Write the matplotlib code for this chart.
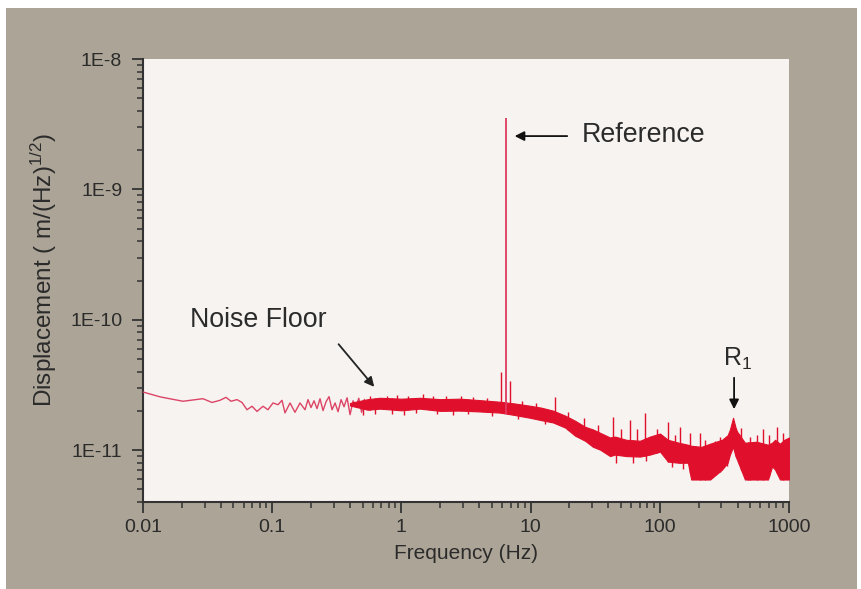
import numpy as np
import matplotlib
matplotlib.use("Agg")
import matplotlib.pyplot as plt
from matplotlib.ticker import LogLocator, FixedLocator, FuncFormatter, NullFormatter
from matplotlib.patches import Rectangle

plt.rcParams['font.family'] = ['Liberation Sans', 'DejaVu Sans']
plt.rcParams['mathtext.fontset'] = 'custom'
plt.rcParams['mathtext.rm'] = 'Liberation Sans'
plt.rcParams['mathtext.it'] = 'Liberation Sans'
plt.rcParams['mathtext.default'] = 'regular'

# ---------------- data ----------------
# low-frequency trace (Hz, m/Hz^1/2)
trace_f = [0.0100, 0.0136, 0.0204, 0.0291, 0.0342, 0.0394, 0.0439, 0.0480, 0.0534, 0.0584,
           0.0638, 0.0698, 0.0763, 0.0849, 0.0927, 0.1014, 0.1109, 0.1191, 0.1256, 0.1374,
           0.1501, 0.1641, 0.1795, 0.1893, 0.1996, 0.2107, 0.2223, 0.2345, 0.2474, 0.2610,
           0.2754, 0.2905, 0.3065, 0.3234, 0.3412, 0.3599, 0.3797, 0.4006, 0.4227, 0.4459,
           0.468, 0.492, 0.517, 0.543]
trace_v = [2.79e-11, 2.56e-11, 2.37e-11, 2.48e-11, 2.32e-11, 2.41e-11, 2.54e-11, 2.37e-11, 2.44e-11, 2.32e-11,
           2.04e-11, 2.17e-11, 1.98e-11, 2.17e-11, 2.04e-11, 2.30e-11, 2.23e-11, 2.41e-11, 1.93e-11, 2.30e-11,
           1.95e-11, 2.30e-11, 2.04e-11, 2.44e-11, 2.12e-11, 2.39e-11, 2.08e-11, 2.48e-11, 2.01e-11, 2.35e-11,
           2.57e-11, 2.04e-11, 2.30e-11, 1.97e-11, 2.44e-11, 2.15e-11, 2.52e-11, 1.87e-11, 2.39e-11, 2.19e-11,
           2.50e-11, 1.95e-11, 2.45e-11, 2.05e-11]

# dense noise band: envelope (upper / lower)
band_f = [0.40, 0.55, 0.68, 1.0, 1.39, 2.0, 2.84, 4.0, 5.8, 7.5, 9.9, 12.0, 14.9, 18.5, 22.1, 26.4,
          30.4, 34.4, 41.2, 45.0, 55.0, 70.3, 83.9, 100.4, 115.6, 140, 165, 175, 210, 245, 303,
          335, 349, 369, 385, 396, 456, 560, 688, 740, 780, 851, 920, 1000]
band_hi = [2.30e-11, 2.46e-11, 2.52e-11, 2.48e-11, 2.52e-11, 2.46e-11, 2.48e-11, 2.42e-11, 2.35e-11,
           2.28e-11, 2.19e-11, 2.12e-11, 2.01e-11, 1.84e-11, 1.68e-11, 1.51e-11,
           1.44e-11, 1.36e-11, 1.25e-11, 1.27e-11, 1.20e-11, 1.18e-11, 1.27e-11, 1.34e-11, 1.20e-11,
           1.14e-11, 1.10e-11, 1.08e-11, 1.06e-11, 1.12e-11, 1.20e-11,
           1.30e-11, 1.44e-11, 1.77e-11, 1.50e-11, 1.39e-11, 1.14e-11, 1.16e-11, 1.10e-11, 1.14e-11,
           1.20e-11, 1.12e-11, 1.20e-11, 1.25e-11]
band_lo = [2.20e-11, 2.04e-11, 2.08e-11, 2.02e-11, 2.08e-11, 2.00e-11, 2.01e-11, 1.98e-11, 1.94e-11,
           1.86e-11, 1.77e-11, 1.70e-11, 1.63e-11, 1.49e-11, 1.29e-11, 1.18e-11,
           1.06e-11, 1.01e-11, 9.0e-12, 9.24e-12, 9.0e-12, 8.92e-12, 9.24e-12, 9.74e-12, 8.17e-12,
           8.0e-12, 8.0e-12, 5.95e-12, 5.95e-12, 5.95e-12, 7.09e-12,
           8.0e-12, 9.24e-12, 1.06e-11, 9.0e-12, 8.45e-12, 5.95e-12, 5.95e-12, 5.95e-12, 7.5e-12,
           7.09e-12, 5.95e-12, 5.95e-12, 5.95e-12]

# narrow spikes above the band
spike_f = [0.57, 0.78, 0.93, 1.12, 1.47, 1.75, 2.2, 2.9, 3.6, 4.6, 5.90, 6.93, 8.6, 11.0,
           15.45, 19.5, 25.9, 33.0, 43.4, 50.5, 58.8, 66.7, 76.8, 95.0, 115.6, 130, 143, 171,
           205, 224, 268, 290, 425, 500, 565, 630, 700, 807, 900]
spike_v = [2.62e-11, 2.60e-11, 2.65e-11, 2.58e-11, 2.70e-11, 2.60e-11, 2.62e-11, 2.60e-11,
           2.55e-11, 2.52e-11, 4.0e-11, 3.4e-11, 2.40e-11, 2.30e-11,
           2.57e-11, 1.95e-11, 1.77e-11, 1.55e-11, 1.81e-11, 1.45e-11, 1.71e-11, 1.44e-11,
           1.94e-11, 1.45e-11, 1.63e-11, 1.30e-11, 1.51e-11, 1.36e-11,
           1.36e-11, 1.20e-11, 1.18e-11, 1.25e-11, 1.49e-11, 1.25e-11, 1.31e-11, 1.44e-11,
           1.30e-11, 1.51e-11, 1.35e-11]

# narrow dips below the band
dip_f = [0.50, 0.63, 0.85, 1.05, 1.3, 1.9, 2.5, 3.3, 5.0, 8.0, 13.0, 46.0, 62.0, 78.0, 125.0,
         150.0, 330.0, 410.0, 480.0]
dip_v = [1.85e-11, 1.88e-11, 1.90e-11, 1.86e-11, 1.92e-11, 1.88e-11, 1.85e-11, 1.90e-11,
         1.82e-11, 1.72e-11, 1.58e-11, 8.0e-12, 8.0e-12, 8.2e-12, 7.4e-12, 7.2e-12, 7.5e-12,
         7.8e-12, 5.95e-12]

# reference line
ref_f = 6.45
ref_v = 3.5e-9

# tick positions
xticks = [0.01, 0.1, 1, 10, 100, 1000]
yticks = [1e-11, 1e-10, 1e-9, 1e-8]

# ---------------- figure ----------------
W, H = 862, 589
fig = plt.figure(figsize=(W / 100, H / 100), dpi=100, facecolor='white')
fig.patches.append(Rectangle((6 / W, 0), 851 / W, 1 - 8 / H, transform=fig.transFigure,
                             facecolor='#aca597', edgecolor='none', zorder=-10))

ax = fig.add_axes([143 / W, 1 - 502 / H, 646 / W, 443 / H])
ax.set_facecolor('#f7f3f0')

red = '#e0102c'
ax.plot(trace_f, trace_v, color='#dc4466', lw=1.0, zorder=3)
ax.fill_between(band_f, band_lo, band_hi, color=red, lw=0.8, edgecolor=red, zorder=3)

lf = np.log10(band_f)
base = 10 ** np.interp(np.log10(spike_f), lf, np.log10(band_lo))
ax.vlines(spike_f, base, spike_v, color=red, lw=1.0, zorder=3)
top = 10 ** np.interp(np.log10(dip_f), lf, np.log10(band_hi))
ax.vlines(dip_f, dip_v, top, color=red, lw=1.0, zorder=3)
ref_base = 10 ** np.interp(np.log10(ref_f), lf, np.log10(band_lo))
ax.vlines([ref_f], [ref_base], [ref_v], color='#de3a5e', lw=1.3, zorder=4)

ax.set_xscale('log')
ax.set_yscale('log')
ax.set_xlim(0.01, 1000)
ax.set_ylim(4e-12, 1e-8)

ax.xaxis.set_major_locator(FixedLocator(xticks))
ax.xaxis.set_minor_locator(LogLocator(base=10, subs=np.arange(2, 10), numticks=50))
ax.yaxis.set_major_locator(FixedLocator(yticks))
ax.yaxis.set_minor_locator(LogLocator(base=10, subs=np.arange(2, 10), numticks=50))
ax.xaxis.set_major_formatter(FuncFormatter(lambda v, p: '%g' % v))
ax.yaxis.set_major_formatter(FuncFormatter(lambda v, p: '1E%d' % round(np.log10(v))))
ax.xaxis.set_minor_formatter(NullFormatter())
ax.yaxis.set_minor_formatter(NullFormatter())

txt = '#2b2b2b'
for s in ['top', 'right']:
    ax.spines[s].set_visible(False)
for s in ['left', 'bottom']:
    ax.spines[s].set_color('#333333')
    ax.spines[s].set_linewidth(1.5)
ax.tick_params(which='major', direction='out', length=8, width=1.3, colors='#333333',
               labelsize=14, labelcolor=txt)
ax.tick_params(axis='y', which='major', pad=7)
ax.tick_params(axis='x', which='major', pad=4)
ax.tick_params(which='minor', direction='out', length=4.5, width=1.1, colors='#333333')

ax.set_xlabel('Frequency (Hz)', fontsize=15, color=txt)
ax.xaxis.set_label_coords(0.5, -0.095)
ax.set_ylabel(r'Displacement ( m/(Hz)$^{1/2}$)', fontsize=17.5, color=txt)
ax.yaxis.set_label_coords(-0.13, 0.524)

# annotations
ax.annotate('', xy=(0.571, 0.826), xytext=(0.661, 0.826), xycoords='axes fraction',
            arrowprops=dict(arrowstyle='-|>', color='#111111', lw=1.3, mutation_scale=14))
ax.text(0.6796, 0.828, 'Reference', transform=ax.transAxes, fontsize=19.3, color=txt,
        ha='left', va='center')
ax.annotate('', xy=(0.3607, 0.2551), xytext=(0.300, 0.361), xycoords='axes fraction',
            arrowprops=dict(arrowstyle='-|>', color='#222222', lw=1.3, mutation_scale=14))
ax.text(0.0728, 0.4108, 'Noise Floor', transform=ax.transAxes, fontsize=19.3, color=txt,
        ha='left', va='center')
ax.annotate('', xy=(0.915, 0.2032), xytext=(0.915, 0.2867), xycoords='axes fraction',
            arrowprops=dict(arrowstyle='-|>', color='#111111', lw=1.3, mutation_scale=14))
ax.text(0.898, 0.322, r'R$_1$', transform=ax.transAxes, fontsize=18, color=txt,
        ha='left', va='center')

fig.savefig('out.png', dpi=100, facecolor=fig.get_facecolor())
